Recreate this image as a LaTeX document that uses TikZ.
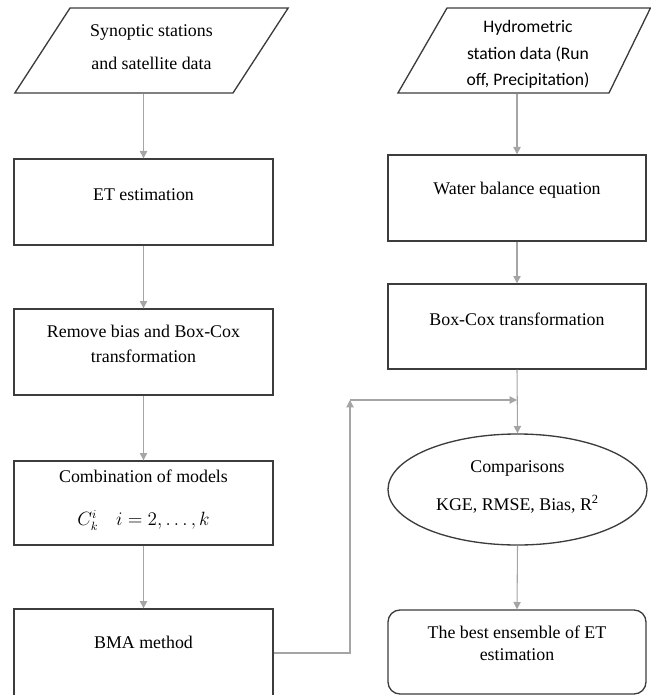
\documentclass[tikz,border=0pt]{standalone}
\usepackage{fontspec}
\setmainfont{Liberation Serif}
\newfontfamily\bodyfont{Liberation Serif}
\newfontfamily\hydfont{Carlito}
\usetikzlibrary{shapes.geometric, arrows.meta}
\definecolor{boxline}{RGB}{60,60,60}
\definecolor{flowgray}{RGB}{165,165,165}
\tikzset{procbox/.style={rectangle, draw=boxline, line width=1pt, minimum width=194.25pt, text width=180pt, align=flush center, inner sep=0pt, text height=9pt, font=\bodyfont\fontsize{13.4}{18.75}\selectfont}}
\tikzset{databox/.style={trapezium, draw=boxline, line width=1pt, inner xsep=0pt, align=flush center, text height=9pt}}
\tikzset{cmpbox/.style={ellipse, draw=boxline, line width=1pt, minimum width=194.25pt, minimum height=83.25pt, text width=130pt, align=flush center, inner sep=0pt, text height=9pt}}
\tikzset{flow/.style={draw=flowgray, line width=0.8pt, -{Triangle[length=5.5pt, width=5.5pt]}}}

\begin{document}
\begin{tikzpicture}[x=0.75pt, y=-0.75pt]
        \useasboundingbox (0,0) rectangle (650,695);
        % left column
        \node[databox, trapezium left angle=57, trapezium right angle=123, text width=122.25pt, text depth=29.7pt, inner ysep=12.5pt, font=\bodyfont\fontsize{13.4}{24.5}\selectfont] (syn) at (151.5,50.5) {Synoptic stations\\and satellite data};
        \node[procbox, minimum height=64.5pt, text depth=12pt] (et) at (143.5,202) {ET estimation};
        \node[procbox, minimum height=64.5pt, text depth=31.5pt] (rb) at (143.5,352) {Remove bias and Box-Cox\\transformation};
        \node[procbox, minimum height=63pt, text depth=40pt, font=\bodyfont\fontsize{13.4}{32.5}\selectfont] (comb) at (143.5,503) {Combination of models\\$C_k^i\quad i=2,\ldots,k$};
        \node[procbox, minimum height=66pt, text depth=16pt] (bma) at (143.5,653) {BMA method};
        % right column
        \node[databox, trapezium left angle=60, trapezium right angle=116, text width=121.5pt, text depth=36.3pt, inner ysep=9.2pt, font=\hydfont\fontsize{13.2}{20.1}\selectfont] (hyd) at (528,50.5) {Hydrometric\\station data (Run\\off, Precipitation)};
        \node[procbox, minimum width=193.5pt, minimum height=64.5pt, text depth=13.5pt] (wb) at (517,198) {Water balance equation};
        \node[procbox, minimum width=193.5pt, minimum height=63.75pt, text depth=10.8pt] (bc) at (517,326.5) {Box-Cox transformation};
        \node[cmpbox, text depth=35.2pt, font=\bodyfont\fontsize{13.4}{29}\selectfont] (cmp) at (517.5,489.5) {Comparisons\\KGE, RMSE, Bias, R\textsuperscript{2}};
        \node[procbox, rounded corners=9pt, minimum width=193.5pt, minimum height=63pt, text depth=30pt, font=\bodyfont\fontsize{13.4}{16.5}\selectfont] (best) at (517,652) {The best ensemble of ET\\estimation};
        \coordinate (turn) at (350,400);
        % arrows
        \draw[flow] (et.north |- syn.south) -- (et.north);
        \draw[flow] (et.south) -- (rb.north);
        \draw[flow] (rb.south) -- (comb.north);
        \draw[flow] (comb.south) -- (bma.north);
        \draw[flow] (wb.north |- hyd.south) -- (wb.north);
        \draw[flow] (wb.south) -- (bc.north);
        \draw[flow] (bc.south) -- (cmp.north);
        \draw[flow] (bma.east) -| (turn);
        \draw[flow] (turn) -- (bc.south |- turn);
        \draw[flow] (cmp.south) -- (best.north);
\end{tikzpicture}
\end{document}
